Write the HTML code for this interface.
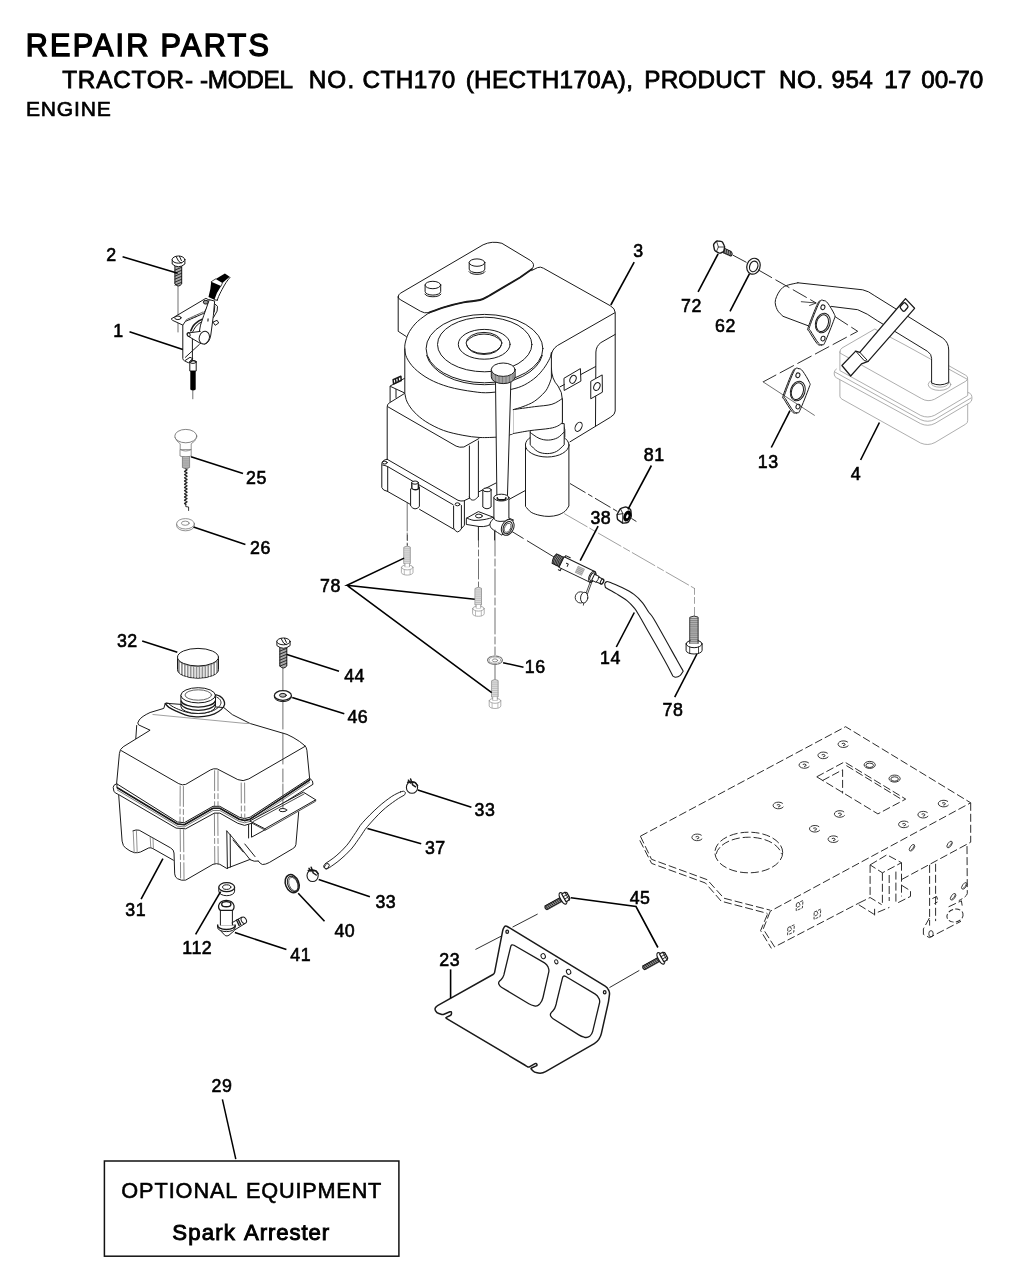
<!DOCTYPE html>
<html lang="en">
<head>
<meta charset="utf-8">
<title>Repair Parts - Tractor Model CTH170 - Engine</title>
<style>
html,body{margin:0;padding:0;background:#fff;}
body{width:1024px;height:1285px;position:relative;overflow:hidden;font-family:"Liberation Sans",Arial,Helvetica,sans-serif;color:#000;}
.hx{font-family:"Liberation Sans",Arial,Helvetica,sans-serif;fill:#000;stroke:#000;}
svg{position:absolute;left:0;top:0;will-change:transform;}
.lb{font-family:"Liberation Sans",Arial,Helvetica,sans-serif;font-size:17.8px;fill:#000;stroke:#000;stroke-width:0.6px;text-anchor:middle;letter-spacing:0.5px;}
.ld{stroke:#000;stroke-width:1.6;fill:none;stroke-linecap:butt;}
.o{stroke:#1a1a1a;stroke-width:1;fill:none;stroke-linejoin:round;stroke-linecap:round;}
.of{stroke:#1a1a1a;stroke-width:1;fill:#fff;stroke-linejoin:round;stroke-linecap:round;}
.t{stroke:#333;stroke-width:0.7;fill:none;stroke-linejoin:round;stroke-linecap:round;}
.g{stroke:#999;stroke-width:0.8;fill:none;stroke-linejoin:round;stroke-linecap:round;}
.gf{stroke:#999;stroke-width:0.8;fill:#fff;stroke-linejoin:round;stroke-linecap:round;}
.d{stroke:#222;stroke-width:0.95;fill:none;}
.cl{stroke:#222;stroke-width:0.95;fill:none;}
.k{fill:#000;stroke:none;}
.w{fill:#fff;stroke:none;}
.bx{font-family:"Liberation Sans",Arial,Helvetica,sans-serif;fill:#000;stroke:#000;stroke-width:0.45px;text-anchor:middle;}
</style>
</head>
<body>
<svg width="1024" height="1285" viewBox="0 0 1024 1285">
<g id="left-parts">
<path class="t" d="M178 286 L178 332"/>
<path class="o" d="M182.8 325.1 L182.8 358.6 Q182.9 360 184.5 360.8 L188.6 362.9 L192.6 358.6 L190 357.3 L185.3 360.4"/>
<path class="o" d="M199.4 344.4 L185.4 357.3 M192.4 336.9 L192.4 361.6"/>
<path class="of" d="M171.5 318.7 L205.9 298.3 L210.9 301 L203.7 313.3 L185.4 321.4 L182.8 325.1 L173.1 320.6 Z"/>
<path class="t" d="M185.4 321.4 L186.4 319.6 L203 312 M189 318.8 L189.6 320 M192 317.4 L192.6 318.6 M195 316 L195.6 317.2 M198 314.6 L198.6 315.8"/>
<ellipse class="o" cx="177.9" cy="317.8" rx="3.2" ry="1.8"/>
<ellipse class="o" cx="205.9" cy="302.2" rx="2.6" ry="1.9" style="fill:#999"/>
<path class="o" d="M190.8 330.8 C191.2 329.9 192.4 327 193.5 325.5 C194.6 324 196.1 322.8 197.5 321.8 C198.9 320.8 201.1 319.8 201.8 319.4" style="stroke-width:1.6"/>
<path class="o" d="M192.8 331.6 C193.2 330.8 194.5 328.4 195.5 327 C196.5 325.6 197.8 324.4 199 323.5 C200.2 322.6 201.9 321.9 202.5 321.6"/>
<path class="o" d="M214.4 303.6 L217.5 306.3 L217.1 311.1 L213.4 317.6 M214.8 306 L214.2 312"/>
<path class="of" d="M213.4 321.9 L217.1 320.3 L218.7 323 L215.5 325.1 Z"/>
<path class="of" d="M209.2 300 L203.7 315.6 L200.5 325.1 L199 333.5 Q198.6 342 204.5 344.2 Q209.5 343 210.8 335 L213.4 315.4 L214.6 301.5 Z"/>
<path class="k" d="M207.6 318.6 L208.6 318.6 L208.4 321.6 L207.4 321.6 Z"/>
<path class="of" d="M200.3 331.4 L187.8 333 Q186.4 335 188.3 336.3 L200.8 343.6"/>
<ellipse class="o" cx="188.6" cy="334.6" rx="1.5" ry="2" transform="rotate(-20 188.6 334.6)"/>
<ellipse class="of" cx="204.3" cy="337.6" rx="5" ry="6.5" transform="rotate(18 204.3 337.6)"/>
<path class="k" d="M215.7 278.9 L224.9 273.6 L229.7 276.8 L222.4 283 Z"/>
<path class="k" d="M211.2 281.7 L221.1 286 Q216.5 292.5 214.4 299.8 L208.5 296.9 Q210.8 289 211.2 281.7 Z"/>
<path class="o" d="M230 277.4 C229.3 278.3 227.3 280.6 226 282.6 C224.7 284.6 223.2 287.3 222 289.6 C220.8 291.9 219.4 294.7 218.6 296.5 C217.8 298.3 217.5 299.6 217.3 300.2"/>
<path class="o" d="M214.4 299.8 L217.3 300.2"/>
<path class="o" d="M211.2 281.7 L215.7 278.9 M221.1 286 L222.4 283" style="stroke-width:0.8"/>
<path class="of" d="M189.8 362.4 L189.8 371 L196.2 371 L196.2 361.4 Q193 359.6 189.8 362.4 Z"/>
<ellipse class="o" cx="193" cy="361.9" rx="3.2" ry="1.5"/>
<path class="k" d="M190.3 371 L190.3 389.6 Q193 391.6 195.7 389.6 L195.7 371 Z"/>
<path class="t" d="M192.8 390.5 L192.8 398.8"/>
<path class="of" d="M174.9 266 L174.9 284 Q178.3 288 181.7 284 L181.7 266 Z" style="fill:#aaa"/>
<path class="o" d="M175 270.1 L181.6 267.3" style="stroke-width:0.9"/>
<path class="o" d="M175 273.1 L181.6 270.3" style="stroke-width:0.9"/>
<path class="o" d="M175 276.1 L181.6 273.3" style="stroke-width:0.9"/>
<path class="o" d="M175 279.1 L181.6 276.3" style="stroke-width:0.9"/>
<path class="o" d="M175 282.1 L181.6 279.3" style="stroke-width:0.9"/>
<path class="o" d="M175 285.1 L181.6 282.3" style="stroke-width:0.9"/>
<path class="of" d="M172.2 259.6 L172.2 264 Q178.5 269.5 184.9 264 L184.9 259.6 Z"/>
<ellipse class="of" cx="178.5" cy="259.6" rx="6.3" ry="3.6"/>
<path class="o" d="M176 256.4 L178.6 261.2 L181.2 263 M179.4 256.2 L181.4 260.6"/>
<path class="gf" d="M174.9 437.5 Q176.5 441.5 180.2 443.8 L180.2 449.6 L191.2 449.6 L191.2 443.8 Q195.3 441.5 196.7 437.5" style="stroke:#777"/>
<ellipse class="gf" cx="185.8" cy="436.1" rx="11" ry="6.7" style="stroke:#666"/>
<path class="g" d="M180.2 449.6 Q185.7 452.6 191.2 449.6 M180 450.2 L180 456 Q185.6 459 191.2 456 L191.2 450.2" style="stroke:#777"/>
<path class="gf" d="M182.4 457 L182.4 467.5 Q186 470.5 189.6 467.5 L189.6 457 Z" style="fill:#bbb;stroke:#777"/>
<path class="g" d="M182.6 458.8 L189.4 458.8" style="stroke:#888;stroke-width:0.6"/>
<path class="g" d="M182.6 460.9 L189.4 460.9" style="stroke:#888;stroke-width:0.6"/>
<path class="g" d="M182.6 463 L189.4 463" style="stroke:#888;stroke-width:0.6"/>
<path class="g" d="M182.6 465.1 L189.4 465.1" style="stroke:#888;stroke-width:0.6"/>
<path class="g" d="M182.6 467.2 L189.4 467.2" style="stroke:#888;stroke-width:0.6"/>
<path class="o" d="M185.8 469 Q188.4 469.8 185.8 470.6 Q183.2 471.4 185.8 472.2 Q188.4 473 185.8 473.8 Q183.2 474.6 185.8 475.4 Q188.4 476.2 185.8 477 Q183.2 477.8 185.8 478.6 Q188.4 479.4 185.8 480.2 Q183.2 481 185.8 481.8 Q188.4 482.6 185.8 483.4 Q183.2 484.2 185.8 485 Q188.4 485.8 185.8 486.6 Q183.2 487.4 185.8 488.2 Q188.4 489 185.8 489.8 Q183.2 490.6 185.8 491.4 Q188.4 492.2 185.8 493 Q183.2 493.8 185.8 494.6 Q188.4 495.4 185.8 496.2 Q183.2 497 185.8 497.8 Q188.4 498.6 185.8 499.4 Q183.2 500.2 185.8 501 Q188.4 501.8 185.8 502.6 Q183.2 503.4 185.8 504.2" style="stroke-width:1.3;stroke:#222"/>
<path class="o" d="M185.8 504.2 L185.8 506.6 L188.6 507 L188.6 510.5" style="stroke-width:0.9"/>
<path class="g" d="M176.6 524 L176.6 525.6 A8.9 5.2 0 0 0 194.4 525.6 L194.4 524" style="stroke:#777"/>
<ellipse class="gf" cx="185.5" cy="523.8" rx="8.9" ry="5.2" style="stroke:#777"/>
<ellipse class="g" cx="185.3" cy="523.2" rx="3.9" ry="2.1" style="stroke:#777"/>
</g>
<g id="engine">
<path class="o" d="M404.8 393.3 L388.6 403.4 Q387.2 404.6 387.2 407 L387.2 459.3"/>
<path class="o" d="M387.9 406.8 L456.1 446.1 Q459.5 447.8 463.9 447 L479 438.5"/>
<path class="o" d="M469.4 446 L469.4 498.3 M478.4 441 L478.4 496.5"/>
<path class="o" d="M469.4 497 C469.7 497.4 470.1 499.1 471 499.6 C471.9 500.1 473.3 500.3 474.5 499.8 C475.7 499.3 477.8 497.1 478.4 496.5"/>
<path class="o" d="M478.9 491.8 L496 483 M508.7 499.6 L524.8 490.8"/>
<path class="o" d="M404.8 378.2 L390.1 386 L390.1 401.5 M396 389.4 L396 397.5 M390.6 386.5 L404.3 392.8"/>
<path class="o" d="M393.1 379.6 L400.9 376.2 L401.2 380.6 L393.6 384 Z M395.5 378.8 L396 382.8 M398 377.7 L398.5 381.7" style="stroke-width:1.5"/>
<path class="o" d="M387.2 459.3 Q382 459.8 381.8 464 L381.8 487.5 Q382.5 490.5 387.7 491.5"/>
<path class="o" d="M387.2 459.3 L458 500.3 Q461 501.5 463.9 500.8 L469.2 498.3"/>
<path class="o" d="M382.6 465 Q385 465.3 387.7 466.6 L453.1 504.7"/>
<path class="o" d="M387.7 466.6 L387.7 491.5 L410.4 504.4 M419.6 509.4 L453.4 529"/>
<ellipse class="o" cx="384.8" cy="462.6" rx="2.4" ry="1.4"/>
<path class="o" d="M453.6 506 L453.6 528 Q457.5 535.5 461.4 528.6 L461.4 505.5 M464.4 501.3 L464.4 525.2 L461.4 528.6"/>
<ellipse class="o" cx="457.5" cy="504.3" rx="2.4" ry="1.5"/>
<path class="of" d="M410.6 489 L410.6 506 Q415 511.5 419.4 506.5 L419.4 487"/>
<path class="of" d="M411.8 482.5 L411.8 488.5 Q415 491 418.4 488.8 L418.4 483.8" style="stroke-width:1.4"/>
<ellipse class="of" cx="415.1" cy="482.6" rx="3.3" ry="1.6"/>
<path class="t" d="M407.2 502.7 L407.2 531"/>
<path class="t" d="M407.2 533 L407.2 545" style="stroke-dasharray:7 3"/>
<path class="of" d="M482.8 490 L482.8 507 Q487 510.5 491.1 507 L491.1 490"/>
<ellipse class="of" cx="487" cy="489.8" rx="4.1" ry="1.9"/>
<path class="of" d="M466.7 518.1 L478.4 511.6 L493.5 517.3 L493.5 522 Q488 527.5 479 526.5 L466.7 524.5 Z"/>
<path class="o" d="M466.7 518.1 C467.9 518.5 471.1 520.1 474 520.4 C476.9 520.6 480.8 520.1 484 519.6 C487.2 519.1 491.9 517.7 493.5 517.3"/>
<ellipse class="o" cx="478.9" cy="516" rx="3.4" ry="1.9"/>
<path class="o" d="M478.4 526.5 L478.4 540 M494.6 531 L494.6 540"/>
<path class="w" d="M531.7 270.5 L537.6 267.6 Q540.5 266.4 543.4 268.2 L610.2 305.7 Q615.2 308.5 615.2 312.5 L615.2 411 Q615.2 414.5 610.5 417.2 L570 441.8 L564.8 437 L564.8 429.5 L562.4 422.5 L562.4 400 Q562.4 392 558 386 Q551.4 379 551.4 368 L551.4 355.5 Z"/>
<path class="o" d="M531.7 270.5 L537.6 267.6 Q540.5 266.4 543.4 268.2 L610.2 305.7 Q615.2 308.5 615.2 312.5 L615.2 411 Q615.2 414.5 610.5 417.2 L570 441.8"/>
<path class="o" d="M564.8 437 L564.8 429.5 L562.4 422.5 L562.4 400 Q562.4 392 558 386 Q551.4 379 551.4 368"/>
<path class="o" d="M614.9 312.7 L557.5 345.5 Q551.6 349.5 551.4 355.5"/>
<path class="o" d="M615.2 334.4 L600.9 342.6 Q596.2 346 595.9 352 L595.5 426"/>
<path class="of" d="M564.3 378.1 L580.4 368.6 L580.9 381.1 L564.5 390.3 Z"/>
<ellipse class="o" cx="573" cy="379.3" rx="2.9" ry="4.2" transform="rotate(25 573 379.3)"/>
<path class="of" d="M591.1 381.1 L602.2 374.9 L602.4 392.2 L591.1 398.6 Z"/>
<ellipse class="o" cx="596.9" cy="386.5" rx="2.9" ry="4.2" transform="rotate(25 596.9 386.5)"/>
<path class="o" d="M580.9 374.5 L595.5 366.6 M559.9 386.9 L564.4 384.5"/>
<ellipse class="o" cx="578.6" cy="426.8" rx="3.1" ry="4.9" transform="rotate(28 578.6 426.8)"/>
<path class="of" d="M525.5 445 L525.5 506.4 C526.5 507.4 528.8 510.8 531.2 512.3 C533.6 513.8 537 514.7 540 515.4 C543 516.1 546 516.5 549 516.4 C552 516.3 555.3 515.9 558 515 C560.7 514.1 563.2 512.8 565 511.3 C566.8 509.8 568.2 506.9 568.9 506 L568.9 445 Z"/>
<ellipse class="of" cx="547.2" cy="445" rx="21.8" ry="12"/>
<path class="of" d="M530.2 424 L530.2 444.8 C531.5 445.9 535 450.1 537.8 451.6 C540.6 453.1 544.1 453.6 547.2 453.6 C550.3 453.6 553.8 452.9 556.6 451.4 C559.4 449.9 562.9 445.9 564.2 444.8 L564.2 424 Z"/>
<path class="of" d="M513.2 409.6 C516.7 409.1 527.8 407.6 534.3 406.7 C540.8 405.8 547.2 405.7 551.9 404.3 C556.6 402.9 560.6 399.5 562.4 398.5 L562.4 422.5 C561.6 423.1 559.9 425 557.7 426 C555.6 427 554.2 427.6 549.5 428.4 C544.8 429.2 535.6 429.8 529.6 430.7 C523.6 431.6 515.9 433.1 513.2 433.6 Z"/>
<path class="o" d="M530.2 432.5 C531.7 433.5 536 437 539 438.3 C542 439.6 545.3 440.2 548.4 440.1 C551.5 440 555.1 439.1 557.7 437.7 C560.3 436.3 563.1 432.9 564.2 431.9"/>
<path class="o" d="M513.2 433.6 L508.5 435.4"/>
<path class="w" d="M404.8 348.8 L404.8 393.3 C405.2 394.8 405.6 399 407.2 402.1 C408.8 405.2 411 408.6 414.1 411.9 C417.2 415.1 420.9 418.5 425.8 421.6 C430.7 424.7 437.2 428.1 443.4 430.4 C449.6 432.7 456.8 434.1 462.9 435.3 C469 436.5 474.3 437.2 480 437.5 C485.7 437.8 494.2 437.2 497 437.2 L513.2 433.6 L513.2 409.6 C514.8 409.1 519.5 408 523 406.6 C526.5 405.2 530.7 403.8 534.3 401.4 C537.9 399 542.4 394.7 544.8 392 C547.2 389.3 547.8 387.3 548.9 385 C550 382.7 551 379.2 551.4 378.1 L551.4 352.7 L500 320 L429.2 312.7 Z"/>
<path class="o" d="M404.8 348.8 L404.8 393.3 C405.2 394.8 405.6 399 407.2 402.1 C408.8 405.2 411 408.6 414.1 411.9 C417.2 415.1 420.9 418.5 425.8 421.6 C430.7 424.7 437.2 428.1 443.4 430.4 C449.6 432.7 456.8 434.1 462.9 435.3 C469 436.5 474.3 437.2 480 437.5 C485.7 437.8 494.2 437.2 497 437.2"/>
<path class="o" d="M551.4 352.7 L551.4 378.1 C551 379.2 550 382.7 548.9 385 C547.8 387.3 547.2 389.3 544.8 392 C542.4 394.7 537.9 399 534.3 401.4 C530.7 403.8 526.5 405.2 523 406.6 C519.5 408 514.8 409.1 513.2 409.6"/>
<path class="o" d="M429.2 312.7 C427.2 314.2 420.8 318.4 417.5 321.5 C414.2 324.6 411.6 328.1 409.6 331.3 C407.6 334.6 406.5 338.1 405.7 341 C404.9 343.9 404.6 346 404.8 348.8 C405 351.6 405.1 354.3 406.7 357.6 C408.3 360.9 410.8 364.8 414.5 368.4 C418.2 372 423.5 376 429.2 379.1 C434.9 382.2 441.4 384.8 448.7 386.9 C456 389 466.2 390.7 473.1 391.6 C480 392.6 483.7 393 490 392.6 C496.3 392.2 505.4 390.7 511.1 389.4 C516.8 388.1 520.1 387.1 524.3 385 C528.4 382.9 532.8 379.9 536 377.1 C539.2 374.3 541.5 371.5 543.8 368.4 C546.1 365.3 548.4 361.2 549.7 358.6 C551 356 551.1 353.7 551.4 352.7"/>
<path class="of" d="M398.2 297 Q398.2 294.5 400.3 293.3 L483.1 244.8 Q492 240.6 501.9 243.3 L530.5 260.5 Q536 264.5 531.7 269.3 L520 277.5 L489.4 295.6 C487.8 296.3 484.3 298.9 480 300 C475.7 301.1 469.4 301.2 463.4 302.4 C457.4 303.6 449.5 305.6 443.8 307.3 C438.1 309 431.6 311.8 429.2 312.7 Q424 313.5 420.4 311.2 L400.9 300 Q398.2 298.8 398.2 297 Z"/>
<path class="o" d="M531.7 269.3 L520 277.5 L489.4 295.6 C487.8 296.3 484.3 298.9 480 300 C475.7 301.1 469.4 301.2 463.4 302.4 C457.4 303.6 449.5 305.6 443.8 307.3 C438.1 309 431.6 311.8 429.2 312.7" style="stroke-width:1.9"/>
<path class="o" d="M398.2 297 L398.2 331.3 L406.4 336.6"/>
<path class="of" d="M425.09999999999997 285.0 L425.09999999999997 291.5 A7.8 3.6 0 0 0 440.7 291.5 L440.7 285.0 Z"/>
<path class="o" d="M424.9 294.1 A8.3 3.6 0 0 0 440.9 294.1"/>
<ellipse class="of" cx="432.9" cy="285" rx="7.8" ry="3.7"/>
<path class="of" d="M469.2 262.6 L469.2 269.1 A7.8 3.6 0 0 0 484.8 269.1 L484.8 262.6 Z"/>
<path class="o" d="M469 271.7 A8.3 3.6 0 0 0 485 271.7"/>
<ellipse class="of" cx="477" cy="262.6" rx="7.8" ry="3.7"/>
<ellipse class="o" cx="484.5" cy="348.6" rx="58.4" ry="34.2"/>
<path class="o" d="M426.7 355.4 A58.4 34.2 0 0 0 542.3 355.4"/>
<ellipse class="o" cx="484.7" cy="344.5" rx="47.2" ry="27.3"/>
<ellipse class="o" cx="484.2" cy="344.3" rx="25.9" ry="14.9"/>
<ellipse class="o" cx="484" cy="343" rx="17.9" ry="10.6"/>
<path class="o" d="M467.2 341 A17.9 10.6 0 0 1 500.8 341"/>
<path class="o" d="M466.9 345.5 A17.2 10 0 0 0 501.1 345.5"/>
<path class="of" d="M495.5 380 L496.9 497.6 L507.4 497.6 L510.9 380 Z"/>
<path class="of" d="M493.9 497.6 L493.9 518.1 C493.3 518.9 490.7 521.4 490.2 523 C489.7 524.6 490.1 526.5 491.1 527.9 C492.1 529.3 494.2 530.3 496 531.5 C497.8 532.7 500.9 534.6 501.9 535.2 L511 522 L513.6 520.1 L508.9 518.1 L508.9 497.6 Z"/>
<path class="o" d="M493.9 518.1 A7.5 3.4 0 0 0 508.4 519.3"/>
<ellipse class="of" cx="501.4" cy="497.6" rx="7.5" ry="3.4"/>
<path class="o" d="M505.9 497.9 A4.3 2 0 0 1 497.3 497.9" style="stroke-width:1.6"/>
<ellipse class="of" cx="507.7" cy="527.4" rx="5.9" ry="8.3" transform="rotate(25 507.7 527.4)"/>
<ellipse class="o" cx="507.7" cy="527.6" rx="4.2" ry="6.4" transform="rotate(25 507.7 527.6)"/>
<ellipse class="t" cx="507.7" cy="527.8" rx="2.9" ry="4.8" transform="rotate(25 507.7 527.8)"/>
<path class="of" d="M491.3 369.7 L491.3 376.9 A11.9 6.7 0 0 0 515.1 376.9 L515.1 369.7 Z" style="fill:#d8d8d8"/>
<path class="t" d="M492.7 373.5 L492.7 379.8" style="stroke:#333;stroke-width:0.55"/>
<path class="t" d="M494.1 374.6 L494.1 380.9" style="stroke:#333;stroke-width:0.55"/>
<path class="t" d="M495.5 375.4 L495.5 381.7" style="stroke:#333;stroke-width:0.55"/>
<path class="t" d="M496.9 376 L496.9 382.3" style="stroke:#333;stroke-width:0.55"/>
<path class="t" d="M498.3 376.4 L498.3 382.7" style="stroke:#333;stroke-width:0.55"/>
<path class="t" d="M499.7 376.7 L499.7 383" style="stroke:#333;stroke-width:0.55"/>
<path class="t" d="M501.1 376.9 L501.1 383.2" style="stroke:#333;stroke-width:0.55"/>
<path class="t" d="M502.5 377 L502.5 383.3" style="stroke:#333;stroke-width:0.55"/>
<path class="t" d="M503.9 377 L503.9 383.3" style="stroke:#333;stroke-width:0.55"/>
<path class="t" d="M505.3 376.9 L505.3 383.2" style="stroke:#333;stroke-width:0.55"/>
<path class="t" d="M506.7 376.7 L506.7 383" style="stroke:#333;stroke-width:0.55"/>
<path class="t" d="M508.1 376.4 L508.1 382.7" style="stroke:#333;stroke-width:0.55"/>
<path class="t" d="M509.5 376 L509.5 382.3" style="stroke:#333;stroke-width:0.55"/>
<path class="t" d="M510.9 375.4 L510.9 381.7" style="stroke:#333;stroke-width:0.55"/>
<path class="t" d="M512.3 374.6 L512.3 380.9" style="stroke:#333;stroke-width:0.55"/>
<path class="t" d="M513.7 373.5 L513.7 379.8" style="stroke:#333;stroke-width:0.55"/>
<ellipse class="of" cx="503.2" cy="369.7" rx="11.9" ry="6.7"/>
</g>
<g id="exhaust">
<path class="gf" d="M839.9 379.6 L839.9 396.2 Q840 398 842 399.2 L920.5 443 Q927.9 446.2 935 442.5 L965.6 424.2 Q967.7 422.8 967.7 420.5 L967.7 404.5"/>
<path class="gf" d="M836.4 369 Q834 370.3 834.2 373 L834.4 375 Q834.6 376.8 836.5 377.8 L920.5 423.6 Q927.9 427 935 423.4 L969.6 402.8 Q971.9 401.4 971.9 399 L971.9 396.8 Q971.9 394.4 969.6 393.2 L967.7 392.4"/>
<path class="g" d="M835.2 372.2 L920.5 419.6 Q927.9 423 935 419.4 L971 398"/>
<path class="gf" d="M839.9 352 L839.9 370.6 L920.8 415.5 Q927.9 418.6 934.8 415.2 L967.7 395.6 L967.7 379.5 L905 345 L874.8 329 L842 348 Q839.9 349.4 839.9 352 Z"/>
<path class="g" d="M840.3 353.2 L921.5 398.6 Q928 402.4 934.6 399.2 L965.8 381.2 Q967.7 380 967.7 378 Q967.7 376.4 965.6 375.2 L944 363"/>
<ellipse class="gf" cx="939.5" cy="384.6" rx="11.3" ry="5.8"/>
<ellipse class="gf" cx="939.9" cy="383.4" rx="8.5" ry="3.8"/>
<path class="of" d="M797.9 282.8 L862.7 289.8 Q868.5 291 874.8 295.8 L942.8 338.1 Q948.7 342.5 948.7 350 L948.7 382.5 Q940 387 931.6 383 L931.6 358.4 Q931.6 354 927.6 351.4 L877.3 320.7 Q867 313.2 857.7 309.7 L831.1 306.4 L809.6 326.3 L783 316.3 C782 315.2 778.5 312.5 777.2 309.7 C776 306.9 774.5 303.4 775.5 299.7 C776.5 296 779.3 290.1 783 287.3 C786.7 284.5 795.4 283.6 797.9 282.8 Z"/>
<path class="of" d="M822.3 301.1 C823.7 301.2 824.5 301.3 826.3 303.6 C828.1 305.9 832 312.4 833.1 315.1 C834.2 317.8 834.4 314.9 832.8 319.6 C831.2 324.3 825.4 338.9 823.4 343.1 C821.4 347.3 821.7 344.9 820.6 345 C819.5 345.1 818.9 345.8 817 343.5 C815.1 341.2 810.5 333.8 809 331.1 C807.5 328.4 806.7 331.9 808.2 327.3 C809.7 322.7 815.5 307.7 817.8 303.3 C820.2 298.9 820.9 301.1 822.3 301.1Z"/>
<path class="of" d="M823.7 300.6 C825.1 300.7 825.9 300.8 827.7 303.1 C829.5 305.4 833.4 311.9 834.5 314.6 C835.6 317.3 835.8 314.4 834.2 319.1 C832.6 323.8 826.8 338.4 824.8 342.6 C822.8 346.8 823.1 344.4 822 344.5 C820.9 344.6 820.3 345.3 818.4 343 C816.5 340.7 811.9 333.3 810.4 330.6 C808.9 327.9 808.1 331.4 809.6 326.8 C811.1 322.2 816.9 307.2 819.2 302.8 C821.6 298.4 822.3 300.6 823.7 300.6Z"/>
<ellipse class="o" cx="822.8" cy="323" rx="7.2" ry="10" transform="rotate(18 822.8 323)"/>
<ellipse class="o" cx="822.4" cy="323.2" rx="5.8" ry="8.6" transform="rotate(18 822.4 323.2)"/>
<ellipse class="o" cx="822.9" cy="307.3" rx="2" ry="2.4" transform="rotate(18 822.9 307.3)"/>
<ellipse class="o" cx="823" cy="338.6" rx="2" ry="2.4" transform="rotate(18 823 338.6)"/>
<path class="o" d="M801.3 301.7 L816.2 303 L809.6 305.5" style="stroke-width:0.8"/>
<path class="of" d="M905.5 298.6 L914.6 308.3 L868.1 361.4 L861.5 363.9 L850.7 376 L841.9 365.5 L855.7 351.1 L859.8 352.3 L902.2 302.5 Z" style="stroke-width:1.25"/>
<path class="o" d="M855.7 351.1 L864.2 360.6 L868.1 361.4 M859.8 352.3 L866.8 359.8"/>
<path class="o" d="M900.7 308.4 Q899.6 307.2 900.7 306 L903.3 303.2 Q904.4 302 905.5 303.2 L907.5 305.4 Q908.6 306.6 907.5 307.8 L904.9 310.8 Q903.8 312 902.7 310.8Z" style="stroke-width:1.3"/>
<path class="of" d="M797.3 369.1 C798.7 369.2 799.5 369.3 801.3 371.6 C803.1 373.9 807 380.4 808.1 383.1 C809.2 385.8 809.4 382.9 807.8 387.6 C806.2 392.3 800.4 406.9 798.4 411.1 C796.4 415.3 796.7 412.9 795.6 413 C794.5 413.1 793.9 413.8 792 411.5 C790.1 409.2 785.5 401.8 784 399.1 C782.5 396.4 781.7 399.9 783.2 395.3 C784.7 390.7 790.5 375.7 792.8 371.3 C795.2 366.9 795.9 369.1 797.3 369.1Z"/>
<path class="of" d="M798.7 368.6 C800.1 368.7 800.9 368.8 802.7 371.1 C804.5 373.4 808.4 379.9 809.5 382.6 C810.6 385.3 810.8 382.4 809.2 387.1 C807.6 391.8 801.8 406.4 799.8 410.6 C797.8 414.8 798.1 412.4 797 412.5 C795.9 412.6 795.3 413.3 793.4 411 C791.5 408.7 786.9 401.3 785.4 398.6 C783.9 395.9 783.1 399.4 784.6 394.8 C786.1 390.2 791.9 375.2 794.2 370.8 C796.6 366.4 797.3 368.6 798.7 368.6Z"/>
<ellipse class="o" cx="797.8" cy="391" rx="7.2" ry="10" transform="rotate(18 797.8 391)"/>
<ellipse class="o" cx="797.4" cy="391.2" rx="5.8" ry="8.6" transform="rotate(18 797.4 391.2)"/>
<ellipse class="o" cx="797.9" cy="375.3" rx="2" ry="2.4" transform="rotate(18 797.9 375.3)"/>
<ellipse class="o" cx="798" cy="406.6" rx="2" ry="2.4" transform="rotate(18 798 406.6)"/>
<ellipse class="of" cx="753.5" cy="266.2" rx="6.6" ry="8.1" transform="rotate(20 753.5 266.2)" style="stroke-width:1.2"/>
<ellipse class="of" cx="753.7" cy="266.4" rx="4" ry="5.4" transform="rotate(20 753.7 266.4)" style="stroke-width:1.2"/>
<path class="of" d="M723 247.6 L731.4 251.6 Q733.2 253.8 731.2 256.2 L722.6 252.4 Z" style="fill:#999"/>
<path class="o" d="M724.6 248.6 L724 253.2" style="stroke-width:0.8"/>
<path class="o" d="M726.6 249.5 L726 254.1" style="stroke-width:0.8"/>
<path class="o" d="M728.6 250.4 L728 255" style="stroke-width:0.8"/>
<path class="o" d="M730.6 251.3 L730 255.9" style="stroke-width:0.8"/>
<path class="of" d="M713.6 245.6 Q713.4 244.4 714.2 243.5 L715.8 241.7 Q716.6 240.8 717.8 241 L721 241.4 Q722.2 241.6 722.8 242.7 L724.2 245.5 Q724.8 246.6 724.5 247.8 L723.9 250.6 Q723.6 251.8 722.5 252.2 L720.7 253 Q719.6 253.4 718.6 252.8 L715.6 251.2 Q714.6 250.6 714.4 249.4Z" style="stroke-width:1.4"/>
<path class="o" d="M716.6 241.4 L718.4 247 L716.4 251.6 M718.4 247 L724.4 247" style="stroke-width:0.8"/>
</g>
<g id="mid-parts">
<path class="cl" d="M570 483.5 L617.3 511.4 M631.4 518.4 L636.4 521.5" style="stroke-dasharray:18 3 5 3"/>
<path class="g" d="M564.6 513.8 L694.5 588.4" style="stroke:#888;stroke-dasharray:26 3 7 3"/>
<path class="g" d="M694.5 588.4 L694.5 616" style="stroke:#888;stroke-dasharray:6 3 6 4 12 0"/>
<path class="cl" d="M511.6 531.3 L554.1 557.1" style="stroke-dasharray:14 4 30 0"/>
<path class="t" d="M478.5 527 L478.5 587" style="stroke-dasharray:20 3 6 3"/>
<path class="t" d="M495 530 L495 655" style="stroke-dasharray:26 3 7 3"/>
<path class="t" d="M495 664 L495 680"/>
<path class="t" d="M407.4 535 L407.4 540.6 M407.4 543.8 L407.4 547.3"/>
<path class="cl" d="M732.4 254.9 L746.5 262.4 M758.1 269.8 L816.2 303 M834.5 316.3 L857.7 331.3 L763.1 381.9" style="stroke-dasharray:16 4"/>
<path class="t" d="M763.1 381.9 L814.4 415.3"/>
<path class="gf" d="M404.1 547.1 Q407.2 544.9 410.3 547.1 L410.3 563.7 L404.1 563.7 Z" style="fill:#ddd;stroke:#8a8a8a"/>
<path class="g" d="M404.2 548.7 L410.2 548.7" style="stroke:#aaa;stroke-width:0.6"/>
<path class="g" d="M404.2 550.8 L410.2 550.8" style="stroke:#aaa;stroke-width:0.6"/>
<path class="g" d="M404.2 552.9 L410.2 552.9" style="stroke:#aaa;stroke-width:0.6"/>
<path class="g" d="M404.2 555 L410.2 555" style="stroke:#aaa;stroke-width:0.6"/>
<path class="g" d="M404.2 557.1 L410.2 557.1" style="stroke:#aaa;stroke-width:0.6"/>
<path class="g" d="M404.2 559.2 L410.2 559.2" style="stroke:#aaa;stroke-width:0.6"/>
<path class="g" d="M404.2 561.3 L410.2 561.3" style="stroke:#aaa;stroke-width:0.6"/>
<path class="gf" d="M404.9 563.7 L404.9 567.3 L409.5 567.3 L409.5 563.7" style="stroke:#999"/>
<path class="gf" d="M401.4 567.3 L401.4 572.5 A5.8 2.6 0 0 0 413 572.5 L413 567.3" style="stroke:#999"/>
<path class="g" d="M401.4 567.3 A5.8 2.6 0 0 0 413 567.3 M401.4 567.3 A5.8 2.6 0 0 1 404.8 565 M413 567.3 A5.8 2.6 0 0 0 409.6 565" style="stroke:#999"/>
<path class="g" d="M404.3 569.6 L404.3 574.6 M410.1 569.6 L410.1 574.6" style="stroke:#aaa"/>
<path class="gf" d="M475.3 588.3 Q478.4 586.1 481.5 588.3 L481.5 604.9 L475.3 604.9 Z" style="fill:#ddd;stroke:#8a8a8a"/>
<path class="g" d="M475.4 589.9 L481.4 589.9" style="stroke:#aaa;stroke-width:0.6"/>
<path class="g" d="M475.4 592 L481.4 592" style="stroke:#aaa;stroke-width:0.6"/>
<path class="g" d="M475.4 594.1 L481.4 594.1" style="stroke:#aaa;stroke-width:0.6"/>
<path class="g" d="M475.4 596.2 L481.4 596.2" style="stroke:#aaa;stroke-width:0.6"/>
<path class="g" d="M475.4 598.3 L481.4 598.3" style="stroke:#aaa;stroke-width:0.6"/>
<path class="g" d="M475.4 600.4 L481.4 600.4" style="stroke:#aaa;stroke-width:0.6"/>
<path class="g" d="M475.4 602.5 L481.4 602.5" style="stroke:#aaa;stroke-width:0.6"/>
<path class="gf" d="M476.1 604.9 L476.1 608.5 L480.7 608.5 L480.7 604.9" style="stroke:#999"/>
<path class="gf" d="M472.6 608.5 L472.6 613.7 A5.8 2.6 0 0 0 484.2 613.7 L484.2 608.5" style="stroke:#999"/>
<path class="g" d="M472.6 608.5 A5.8 2.6 0 0 0 484.2 608.5 M472.6 608.5 A5.8 2.6 0 0 1 476 606.2 M484.2 608.5 A5.8 2.6 0 0 0 480.8 606.2" style="stroke:#999"/>
<path class="g" d="M475.5 610.8 L475.5 615.8 M481.3 610.8 L481.3 615.8" style="stroke:#aaa"/>
<path class="gf" d="M491.9 680.5 Q495 678.3 498.1 680.5 L498.1 697.1 L491.9 697.1 Z" style="fill:#ddd;stroke:#8a8a8a"/>
<path class="g" d="M492 682.1 L498 682.1" style="stroke:#aaa;stroke-width:0.6"/>
<path class="g" d="M492 684.2 L498 684.2" style="stroke:#aaa;stroke-width:0.6"/>
<path class="g" d="M492 686.3 L498 686.3" style="stroke:#aaa;stroke-width:0.6"/>
<path class="g" d="M492 688.4 L498 688.4" style="stroke:#aaa;stroke-width:0.6"/>
<path class="g" d="M492 690.5 L498 690.5" style="stroke:#aaa;stroke-width:0.6"/>
<path class="g" d="M492 692.6 L498 692.6" style="stroke:#aaa;stroke-width:0.6"/>
<path class="g" d="M492 694.7 L498 694.7" style="stroke:#aaa;stroke-width:0.6"/>
<path class="gf" d="M492.7 697.1 L492.7 700.7 L497.3 700.7 L497.3 697.1" style="stroke:#999"/>
<path class="gf" d="M489.2 700.7 L489.2 705.9 A5.8 2.6 0 0 0 500.8 705.9 L500.8 700.7" style="stroke:#999"/>
<path class="g" d="M489.2 700.7 A5.8 2.6 0 0 0 500.8 700.7 M489.2 700.7 A5.8 2.6 0 0 1 492.6 698.4 M500.8 700.7 A5.8 2.6 0 0 0 497.4 698.4" style="stroke:#999"/>
<path class="g" d="M492.1 703 L492.1 708 M497.9 703 L497.9 708" style="stroke:#aaa"/>
<path class="of" d="M690.1 617.1 Q694.1 614.9 698.1 617.1 L698.1 644.7 L690.1 644.7 Z" style="fill:#ccc;stroke:#333"/>
<path class="o" d="M690.2 618.7 L698 618.7" style="stroke:#444;stroke-width:0.7"/>
<path class="o" d="M690.2 620.8 L698 620.8" style="stroke:#444;stroke-width:0.7"/>
<path class="o" d="M690.2 622.8 L698 622.8" style="stroke:#444;stroke-width:0.7"/>
<path class="o" d="M690.2 624.9 L698 624.9" style="stroke:#444;stroke-width:0.7"/>
<path class="o" d="M690.2 626.9 L698 626.9" style="stroke:#444;stroke-width:0.7"/>
<path class="o" d="M690.2 629 L698 629" style="stroke:#444;stroke-width:0.7"/>
<path class="o" d="M690.2 631 L698 631" style="stroke:#444;stroke-width:0.7"/>
<path class="o" d="M690.2 633.1 L698 633.1" style="stroke:#444;stroke-width:0.7"/>
<path class="o" d="M690.2 635.1 L698 635.1" style="stroke:#444;stroke-width:0.7"/>
<path class="o" d="M690.2 637.2 L698 637.2" style="stroke:#444;stroke-width:0.7"/>
<path class="o" d="M690.2 639.2 L698 639.2" style="stroke:#444;stroke-width:0.7"/>
<path class="o" d="M690.2 641.2 L698 641.2" style="stroke:#444;stroke-width:0.7"/>
<path class="o" d="M690.2 643.3 L698 643.3" style="stroke:#444;stroke-width:0.7"/>
<path class="of" d="M686.1 643.8 L686.1 650.4 A8 3.6 0 0 0 702.1 650.4 L702.1 643.8"/>
<path class="o" d="M686.1 643.8 A8 3.9 0 0 0 702.1 643.8 M686.1 643.8 A8 3.9 0 0 1 690.1 640.5 M702.1 643.8 A8 3.9 0 0 0 698.1 640.5"/>
<path class="o" d="M689.7 647.0999999999999 L689.7 653.4 M698.5 647.0999999999999 L698.5 653.4" style="stroke-width:0.8"/>
<ellipse class="gf" cx="495" cy="660.2" rx="7.4" ry="4.2" style="stroke:#777;stroke-width:1.2;stroke-dasharray:2.4 1.2"/>
<ellipse class="g" cx="495" cy="660.2" rx="5.9" ry="3.2" style="stroke:#999"/>
<ellipse class="g" cx="495" cy="660.4" rx="2.7" ry="1.5" style="stroke:#777"/>
<path class="of" d="M617.1 515.9 Q617 514.6 617.6 513.5 L619.8 509.7 Q620.4 508.6 621.6 508.2 L624.8 507.2 Q626 506.8 627.1 507.4 L629.7 508.8 Q630.8 509.4 630.9 510.7 L631.3 515.5 Q631.4 516.8 630.7 517.9 L628.7 521.5 Q628 522.6 626.7 522.7 L623.9 523.1 Q622.6 523.2 621.6 522.4 L618.4 520.2 Q617.4 519.4 617.3 518.1Z" style="stroke-width:1.4"/>
<path class="o" d="M620.4 508.6 L622.8 513.6 L622.6 523.2 M617 514.6 L622.8 513.6" style="stroke-width:0.9"/>
<ellipse class="k" cx="627.2" cy="516" rx="3.6" ry="5.8" transform="rotate(22 627.2 516)"/>
<ellipse class="w" cx="627.3" cy="516.3" rx="1.1" ry="2" transform="rotate(22 627.3 516.3)"/>
<g transform="translate(561.1 561.8) rotate(25.7)">
<path class="of" style="fill:#999" d="M-7.5 -5.2 L0.5 -5.2 L0.5 5.2 L-7.5 5.2 Q-9.6 0 -7.5 -5.2Z"/>
<path class="o" style="stroke-width:0.8" d="M-6.6 -5.2 Q-8 0 -6.6 5.2"/>
<path class="o" style="stroke-width:0.8" d="M-5 -5.2 Q-6.4 0 -5 5.2"/>
<path class="o" style="stroke-width:0.8" d="M-3.4 -5.2 Q-4.8 0 -3.4 5.2"/>
<path class="o" style="stroke-width:0.8" d="M-1.8 -5.2 Q-3.2 0 -1.8 5.2"/>
<path class="o" style="stroke-width:0.8" d="M-0.2 -5.2 Q-1.6 0 -0.2 5.2"/>
<path class="of" d="M0.5 -5.9 L34.5 -5.9 A3 5.9 0 0 1 34.5 5.9 L0.5 5.9 Z"/>
<ellipse class="o" cx="34.5" cy="0" rx="3" ry="5.9"/>
<ellipse class="o" cx="34.9" cy="0" rx="2.2" ry="4.4"/>
<path class="o" d="M1.5 -5.9 L1.5 -7.6 L6.5 -7.6 M3 5.9 L3 8.4 L1 8.4 M5.5 -1 L7.5 -1 L7.5 1.5"/>
<path d="M17 -3.8 L24.6 -3.8 L24.6 3.6 L17 3.6 Z" style="fill:#999;stroke:none"/>
<path d="M17.3 -2.6 L24.3 -2.6" style="stroke:#ddd;stroke-width:0.6"/>
<path d="M17.3 -0.9 L24.3 -0.9" style="stroke:#ddd;stroke-width:0.6"/>
<path d="M17.3 0.8 L24.3 0.8" style="stroke:#ddd;stroke-width:0.6"/>
<path d="M17.3 2.5 L24.3 2.5" style="stroke:#ddd;stroke-width:0.6"/>
<path class="of" d="M35.5 -3.3 L40.5 -3.3 L40.5 -2.6 L45.5 -2.6 A1.6 2.8 0 0 1 45.5 2.8 L40.5 2.8 L40.5 3.3 L35.5 3.3 Z"/>
<ellipse class="o" cx="45.6" cy="0.1" rx="1.5" ry="2.7"/>
<path class="o" style="stroke-width:0.8" d="M40.5 -2.6 Q41.6 0 40.5 2.8"/>
</g>
<path class="o" d="M590.6 581 L584.6 597 L583.4 605.2 M592 581.6 L586 598" style="stroke-width:0.8"/>
<ellipse class="of" cx="580.6" cy="597.4" rx="5.4" ry="5.6" style="stroke-width:0.9"/>
<ellipse class="of" cx="584.2" cy="597.6" rx="3.6" ry="5.4" transform="rotate(8 584.2 597.6)" style="stroke-width:0.9"/>
<path class="of" d="M609.7 582.3 C611.8 583.2 618 585.6 622 587.6 C626 589.6 630.6 591.9 634 594.4 C637.4 596.9 640.2 599.9 642.6 602.8 C645 605.7 646.5 609 648.6 612 C650.7 615 650.3 613 655 621 C659.7 629 672.2 651.6 676.9 660 C681.6 668.4 682.2 669.3 683.2 671.2 L683.2 671.2 C682.7 671.9 681.3 674.6 680 675.6 C678.7 676.6 676.8 677.1 675.6 677.2 C674.4 677.3 673.4 676.2 672.9 676 L672.9 676 C671.5 673.3 668.8 667.9 664.4 660 C660 652.1 650.6 635.6 646.5 628.4 C642.4 621.2 642 620.3 640 617 C638 613.7 636.8 611.1 634.6 608.4 C632.4 605.7 630.1 603.1 627 600.6 C623.9 598.1 619.8 595.8 616.2 593.6 C612.6 591.4 607.2 588.4 605.4 587.4 L605.4 587.4 C605.3 586.8 604.5 584.6 604.8 583.6 C605.1 582.6 606.2 581.8 607 581.6 C607.8 581.4 609.2 582.2 609.7 582.3Z" style="stroke-width:1.1"/>
</g>
<g id="fuel-tank">
<path class="o" d="M118.7 795 L122.1 841.1 Q123 846.5 125.5 847.9 Q130 851.5 134.4 852.7 Q137.5 853 140.5 852 L148.8 847.9 Q151 847.4 152.9 848.6 L173.4 860.2"/>
<path class="o" d="M133 830.8 Q136 829.4 139.2 830.2 L170.6 847.9 Q174 849.8 174 853 L174.7 873.9 Q175 877.6 177.5 878.7 Q181.5 881 185.7 880.1 L213 864.3 Q216.5 863 219.8 864.3 L226.7 868.4 L250.1 859.4"/>
<path class="t" d="M133.2 831 L134.2 852.4 M136.4 830.4 L137.2 852.6 M150.2 836.8 L150.8 847.6 M153 838.2 L153.4 848.6" style="stroke:#666"/>
<path class="o" d="M226.8 831 L227.4 868.6 M230.2 834.6 L230.4 867"/>
<path class="o" d="M226.8 831 L232.3 837.2 L250.1 859.7 Q254 862 258.3 861.1 M233 840 L243.2 852 M244.8 844 L255 856.6"/>
<path class="o" d="M251.5 822.8 L251.5 837.2 L265.2 829.7 M248.6 822.6 L248.6 838"/>
<path class="o" d="M298.7 811.9 L295.9 844.7 Q295.4 847.6 292.5 848.8 L269.3 862.5 Q265.5 864.6 262.4 864.5 Q260 863.6 258.3 861.1"/>
<path class="t" d="M180.2 829.5 L180.6 878" style="stroke:#555;stroke-dasharray:22 3 5 3"/>
<path class="t" d="M183.6 829.8 L184 879" style="stroke:#555;stroke-dasharray:22 3 5 3"/>
<path class="t" d="M214.4 813.5 L214.8 864" style="stroke:#555;stroke-dasharray:22 3 5 3"/>
<path class="t" d="M217.8 813.5 L218.2 864" style="stroke:#555;stroke-dasharray:22 3 5 3"/>
<path class="of" d="M165.2 703.6 L163.8 708.4 L150.1 712.5 Q141.5 716.5 139.2 720 Q136.6 723.4 138.6 724.9 L150.1 730.2 L123.2 746.8 Q119.8 749 119.4 753.5 L116.6 783.7 L177.5 822 L184.3 822.7 L213 806.3 L219.8 806.3 L239.2 817.2 L244.6 818.6 L250.1 817.2 L309.6 778.2 L306.9 750.2 Q306.6 747 304 745 L299.3 741.3 Q293 737 287 734.4 L250.1 723.5 L232.3 714.6 L224.1 707.8 Z"/>
<path class="o" d="M136.7 725.5 L135.8 738.6"/>
<path class="g" d="M152.9 714.5 L245 723.4 L250.1 723.5" style="stroke:#888"/>
<path class="o" d="M121.4 750.7 L178.8 783.7 Q182.5 785.6 185.7 784.4 L210.3 770 Q213.4 768.2 217.2 768.9 L237.8 779.6 Q243 782 248.8 778.9 L305.5 746.1"/>
<path class="t" d="M180.2 786 L180 823" style="stroke:#555;stroke-dasharray:20 3 5 3"/>
<path class="t" d="M183.4 786.5 L183.4 823" style="stroke:#555;stroke-dasharray:20 3 5 3"/>
<path class="t" d="M214.6 770.7 L214.6 806" style="stroke:#555;stroke-dasharray:20 3 5 3"/>
<path class="t" d="M218 770.7 L218 806" style="stroke:#555;stroke-dasharray:20 3 5 3"/>
<path class="t" d="M241.2 783 L241.4 818" style="stroke:#555;stroke-dasharray:20 3 5 3"/>
<path class="t" d="M244.6 783 L244.8 819" style="stroke:#555;stroke-dasharray:20 3 5 3"/>
<path class="of" d="M116.6 783.7 Q113 785 113.2 787.4 L113.9 791.2 Q114.4 793 118.7 794.6 L176.1 828.1 L185.7 828.8 L214.4 813.1 L219.8 813.1 L237.8 823.3 L244.6 825.4 L251.5 823.3 L313 784.3 Q313.6 780.6 309.6 778.2 L309.6 780 L250.1 819.2 L244.6 820.6 L239.2 819.2 L219.8 808.3 L213 808.3 L184.3 824.7 L177.5 824 L117.3 787.8 Z"/>
<path class="o" d="M117.3 787.8 L177.5 824 L184.3 824.7 L213 808.3 L219.8 808.3 L239.2 819.2 L244.6 820.6 L250.1 819.2 L309.6 780" style="stroke-width:1.6"/>
<path class="t" d="M117.3 790 L177.5 826.2 L184.3 826.9 L213 810.5 L219.8 810.5 L239.2 821.4 L244.6 822.8 L250.1 821.4 L309.6 782.2" style="stroke:#444"/>
<path class="of" d="M250.1 820.8 L303.4 792.2 L315.7 799.8 L265.2 828.6 Z"/>
<path class="o" d="M251.6 823 L265.3 830.2 L315.7 801.2 L315.7 799.8 M253 821.6 L304 794" style="stroke-width:0.8"/>
<ellipse class="o" cx="282.9" cy="810.1" rx="3.8" ry="1.6"/>
<path class="o" d="M165.2 703.6 C165.8 704.2 167.2 706.1 169 707.4 C170.8 708.6 173.4 709.9 176.1 711.1 C178.8 712.3 182 713.9 185 714.8 C188 715.7 190.7 716.3 193.9 716.6 C197.2 716.9 201.1 716.9 204.5 716.4 C207.9 715.9 211.6 715 214.4 713.8 C217.2 712.6 219.7 711 221.4 709.4 C223.1 707.8 224.3 705.9 224.6 704.3 C224.9 702.7 224.2 701 223.4 699.6 C222.6 698.2 221.1 696.9 219.8 696.1 C218.5 695.3 216.2 694.9 215.5 694.7" style="stroke-width:1.3"/>
<path class="o" d="M168.6 703.4 C169.2 703.9 170.3 705.2 172 706.2 C173.7 707.2 176.2 708.4 178.6 709.4 C181 710.4 183.9 711.5 186.5 712.2 C189.1 712.9 191.2 713.2 194 713.4 C196.8 713.6 200.6 713.6 203.6 713.2 C206.6 712.8 209.4 712.1 211.8 711.2 C214.2 710.3 216.5 708.9 218 707.6 C219.5 706.3 220.6 704.7 220.9 703.4 C221.2 702.1 220.7 700.7 220 699.6 C219.3 698.5 217.2 697.4 216.6 697"/>
<path class="o" d="M165.2 703.6 Q166.5 702.2 168.6 703.4"/>
<path class="of" d="M180.9 695.3 L180.9 706.5 A17.3 7 0 0 0 215.5 706.5 L215.5 695.3 Z"/>
<path class="o" d="M181.2 701.1 A17.3 7.4 0 0 0 215.2 701.1" style="stroke-width:1.4"/>
<path class="o" d="M181.2 704.3 A17.3 7.4 0 0 0 215.2 704.3" style="stroke-width:1.4"/>
<ellipse class="of" cx="198.2" cy="695.3" rx="17.3" ry="7.6"/>
<ellipse class="o" cx="198.3" cy="695" rx="13.3" ry="5.2" style="stroke:#666"/>
<path class="of" d="M177.5 657.4 L177.5 669.6 A20.5 8.6 0 0 0 218.5 669.6 L218.5 657.4 Z" style="fill:#959595"/>
<path class="t" d="M180.4 663.1 L180.4 673.2" style="stroke:#fff;stroke-width:1.2"/>
<path class="t" d="M183.4 664.8 L183.4 674.8" style="stroke:#fff;stroke-width:1.2"/>
<path class="t" d="M186.3 665.8 L186.3 675.9" style="stroke:#fff;stroke-width:1.2"/>
<path class="t" d="M189.2 666.6 L189.2 676.6" style="stroke:#fff;stroke-width:1.2"/>
<path class="t" d="M192.2 667 L192.2 677" style="stroke:#fff;stroke-width:1.2"/>
<path class="t" d="M195.1 667.3 L195.1 677.3" style="stroke:#fff;stroke-width:1.2"/>
<path class="t" d="M198 667.4 L198 677.4" style="stroke:#fff;stroke-width:1.2"/>
<path class="t" d="M200.9 667.3 L200.9 677.3" style="stroke:#fff;stroke-width:1.2"/>
<path class="t" d="M203.9 667 L203.9 677" style="stroke:#fff;stroke-width:1.2"/>
<path class="t" d="M206.8 666.5 L206.8 676.6" style="stroke:#fff;stroke-width:1.2"/>
<path class="t" d="M209.7 665.8 L209.7 675.9" style="stroke:#fff;stroke-width:1.2"/>
<path class="t" d="M212.7 664.8 L212.7 674.8" style="stroke:#fff;stroke-width:1.2"/>
<path class="t" d="M215.6 663.1 L215.6 673.2" style="stroke:#fff;stroke-width:1.2"/>
<ellipse class="of" cx="198" cy="657.2" rx="20.5" ry="8.8"/>
<path class="t" d="M282.9 668 L282.9 690.6 M282.9 700.6 L282.9 729"/>
<path class="t" d="M282.9 733 L282.9 808" style="stroke-dasharray:31 5 13 2 22 0"/>
<path class="of" d="M279.8 647.5 L279.8 666 Q283.3 670 286.8 666 L286.8 647.5 Z" style="fill:#aaa"/>
<path class="o" d="M279.9 651.1 L286.7 648.3" style="stroke-width:0.9"/>
<path class="o" d="M279.9 654.1 L286.7 651.3" style="stroke-width:0.9"/>
<path class="o" d="M279.9 657.1 L286.7 654.3" style="stroke-width:0.9"/>
<path class="o" d="M279.9 660.1 L286.7 657.3" style="stroke-width:0.9"/>
<path class="o" d="M279.9 663.1 L286.7 660.3" style="stroke-width:0.9"/>
<path class="o" d="M279.9 666.1 L286.7 663.3" style="stroke-width:0.9"/>
<path class="of" d="M276.9 641.4 L276.9 645.6 Q283.5 651 290.1 645.6 L290.1 641.4 Z"/>
<ellipse class="of" cx="283.5" cy="641.4" rx="6.6" ry="3.4"/>
<path class="o" d="M281 638.4 L283.6 643 L286.2 644.6 M284.4 638.2 L286.4 642.4"/>
<path class="o" d="M274.4 695.6 L274.4 696.8 A8.5 4.8 0 0 0 291.4 696.8 L291.4 695.6"/>
<ellipse class="of" cx="282.9" cy="695.5" rx="8.5" ry="4.8" style="stroke-width:1.2"/>
<ellipse class="o" cx="282.9" cy="695.3" rx="3.4" ry="1.9" style="fill:#bbb"/>
<path class="of" d="M218.8 887.2 L218.8 891.2 A7.9 4.5 0 0 0 234.6 891.2 L234.6 887.2 Z"/>
<ellipse class="of" cx="226.7" cy="887.2" rx="7.9" ry="4.5" style="stroke-width:1.2"/>
<ellipse class="o" cx="226.7" cy="887.1" rx="4.1" ry="2.3"/>
<path class="of" d="M220.4 909.5 L220.4 926 L232.4 926 L232.4 909.5 Z"/>
<path class="of" d="M218.6 905.6 Q218.2 909.2 220.4 910.4 L232.4 910.4 Q234.4 909.2 234 905.6 Q232.6 900.6 226.3 900.4 Q220 900.6 218.6 905.6 Z" style="stroke-width:1.2"/>
<ellipse class="o" cx="226.3" cy="904.2" rx="4.6" ry="2.6" style="stroke-width:1.4"/>
<path class="of" d="M232.4 922.5 L241.6 917.2 L245.6 923.2 L235.2 929.6 Z"/>
<ellipse class="of" cx="243.8" cy="920.2" rx="2.4" ry="3.4" transform="rotate(-30 243.8 920.2)"/>
<path class="o" d="M236.6 920.2 L239.2 925.6 M238.2 919.4 L240.8 924.8" style="stroke-width:1.3"/>
<path class="of" d="M217.6 925.6 L217.6 927.6 A8.8 4 0 0 0 235.2 927.6 L235.2 925.6"/>
<path class="o" d="M235.1 924.9 A8.8 4 0 1 1 217.7 924.9" style="stroke-width:1.3"/>
<path class="o" d="M220.6 930.8 L225.2 935.6 Q227 936.6 229 935.2 L234.4 930.6"/>
<ellipse class="of" cx="292.2" cy="883.7" rx="6.6" ry="9.4" transform="rotate(-22 292.2 883.7)" style="stroke-width:1.5"/>
<ellipse class="o" cx="292.8" cy="883.9" rx="5" ry="7.9" transform="rotate(-22 292.8 883.9)"/>
<ellipse class="t" cx="293.4" cy="884.1" rx="4.2" ry="7" transform="rotate(-22 293.4 884.1)"/>
<ellipse class="of" cx="312.6" cy="875.6" rx="5.6" ry="5.9" style="stroke-width:1.1"/>
<path class="o" d="M309 868.4 L311 871.4 M311.2 867.2 L313.2 873 L316.2 875 M308.2 870.4 L315.8 870.8 L318.2 873.8" style="stroke-width:1.5"/>
<ellipse class="of" cx="412" cy="787.4" rx="5.6" ry="5.9" style="stroke-width:1.1"/>
<path class="o" d="M408.4 780.2 L410.4 783.2 M410.6 779 L412.6 784.8 L415.6 786.8 M407.6 782.2 L415.2 782.6 L417.6 785.6" style="stroke-width:1.5"/>
<path class="of" d="M400.6 791.9 C399.1 792.6 395.6 793.9 391.8 796.4 C388.1 798.9 383 802.7 378.1 807.1 C373.2 811.5 366.2 818.5 362.5 822.7 C358.8 826.9 358.3 828.8 355.7 832.5 C353.1 836.2 350.2 841.3 346.9 845.2 C343.6 849.1 339.8 852.8 336.1 855.9 C332.5 859 326.9 862.5 325 863.8 L325 863.8 C324.8 864.3 323.4 865.7 323.6 866.6 C323.8 867.5 325.1 868.8 326 869 C326.9 869.2 328.8 867.9 329.3 867.7 L329.3 867.7 C331.1 866.4 336.4 862.9 340 859.8 C343.6 856.7 347.8 853 351.2 849.1 C354.6 845.2 357.8 840.1 360.5 836.4 C363.2 832.6 363.8 830.8 367.4 826.6 C371 822.4 377.3 815.4 382 811 C386.7 806.6 391.9 803 395.7 800.3 C399.4 797.6 403 795.9 404.5 795 L404.5 795 C404.6 794.6 405.6 793.2 405.4 792.6 C405.2 792 404.2 791.3 403.4 791.2 C402.6 791.1 401.1 791.8 400.6 791.9Z" style="stroke-width:0.95"/>
<ellipse class="o" cx="326.9" cy="866.2" rx="2" ry="2.9" transform="rotate(35 326.9 866.2)" style="stroke-width:0.9"/>
</g>
<g id="plate-23">
<path class="o" d="M475.8 949.3 L502.1 935.7 M512.9 926.9 L537.3 914.2 M572.5 1008.9 L600.8 994.3 M609.8 987.4 L639 970.6" style="stroke-width:0.9"/>
<path class="of" d="M502.6 931.1 Q503 929 504.2 927.2 L504.2 927.2 Q505.4 925.4 507.2 926.5 L605.2 986.2 Q607.4 987.6 608.5 990 L608.8 990.5 Q609.7 992.3 609.5 994.3 L608.7 1000.1 Q608.6 1001.1 608.4 1002.1 L601.4 1033.4 Q600.8 1036.3 599.1 1038.8 L598.6 1039.6 Q596.9 1042.1 594.3 1043.6 L545.6 1071.6 Q542.2 1073.6 538.3 1073 L537.1 1072.8 Q534.4 1072.4 532.5 1070.4 L531.3 1069.1 Q530.6 1068.4 531.5 1068 L536.2 1065.9 Q537.4 1065.4 536.8 1064.2 L536.8 1064.2 Q536.2 1063 535 1063.7 L529.8 1066.7 Q528.5 1067.5 527.3 1066.6 L526.4 1066.1 Q525.6 1065.5 524.7 1065 L446.3 1018.3 Q445.4 1017.8 446.3 1017.4 L450.2 1015.5 Q451.6 1014.8 451.5 1013.2 L451.5 1012.8 Q451.4 1011.2 449.9 1011.8 L444 1014.2 Q442.6 1014.8 441.2 1014.3 L438.8 1013.5 Q436.7 1012.8 435.6 1010.8 L435.4 1010.5 Q434.6 1008.9 435.6 1007.5 L435.8 1007.2 Q436.7 1006 438 1005.3 L493 974.5 Q494.3 973.8 494.6 972.3Z" style="stroke-width:1.5"/>
<path class="o" d="M510.7 946.7 Q511.4 943.8 514 945.3 L544.5 962.9 Q547 964.4 548.1 967.1 L548.4 967.9 Q549.2 969.8 548.8 971.8 L543 997.5 Q542.2 1001.1 539.8 1003.9 L539.4 1004.3 Q537.4 1006.6 534.5 1005.9 L534.3 1005.9 Q531.4 1005.2 528.8 1003.7 L501.4 987.2 Q499.6 986.2 498.9 984.3 L498.9 984.3 Q498.1 982.4 499.6 981 L501 979.7 Q503.1 977.7 503.9 974.9 L504.3 973 Q504.6 972 504.8 971Z" style="stroke-width:1.3"/>
<path class="o" d="M562.5 977.9 Q563.2 975 565.8 976.5 L595.3 994.1 Q597.8 995.6 598.9 998.4 L599.3 999.2 Q600 1001.1 599.5 1003 L592.7 1031.4 Q592 1034.3 589.7 1036.2 L589.7 1036.2 Q587.4 1038 584.5 1037.3 L584.2 1037.2 Q581.3 1036.5 578.8 1034.9 L553.1 1018.7 Q551.4 1017.6 550.6 1015.7 L550.6 1015.7 Q549.9 1013.8 551.4 1012.4 L552.8 1011 Q554.9 1008.9 555.6 1006 L556.2 1004 Q556.4 1003 556.6 1002Z" style="stroke-width:1.3"/>
<ellipse class="o" cx="543.2" cy="956.2" rx="2.1" ry="2.6" transform="rotate(-25 543.2 956.2)"/>
<ellipse class="o" cx="556.3" cy="961.8" rx="1.6" ry="2.1" transform="rotate(-25 556.3 961.8)"/>
<ellipse class="o" cx="568.6" cy="971.8" rx="2.1" ry="2.6" transform="rotate(-25 568.6 971.8)"/>
<ellipse class="o" cx="507.2" cy="931.8" rx="1.3" ry="1.6" style="stroke-width:1.3"/>
<ellipse class="o" cx="604.7" cy="992.3" rx="1.3" ry="1.6" style="stroke-width:1.3"/>
<g transform="translate(564.4 897.6) rotate(150.9)">
<path class="of" style="fill:#888" d="M3 -2.1 L21 -2.1 Q23 0 21 2.1 L3 2.1 Z"/>
<path class="o" style="stroke-width:0.8" d="M5 -2.1 L5.8 2.1"/>
<path class="o" style="stroke-width:0.8" d="M7.1 -2.1 L7.9 2.1"/>
<path class="o" style="stroke-width:0.8" d="M9.2 -2.1 L10 2.1"/>
<path class="o" style="stroke-width:0.8" d="M11.3 -2.1 L12.1 2.1"/>
<path class="o" style="stroke-width:0.8" d="M13.4 -2.1 L14.2 2.1"/>
<path class="o" style="stroke-width:0.8" d="M15.5 -2.1 L16.3 2.1"/>
<path class="o" style="stroke-width:0.8" d="M17.6 -2.1 L18.4 2.1"/>
<path class="o" style="stroke-width:0.8" d="M19.7 -2.1 L20.5 2.1"/>
<ellipse class="of" style="stroke-width:1.3" cx="1.6" cy="0" rx="2.6" ry="6.4"/>
<path class="of" style="stroke-width:1.3" d="M-4.6 -3 L-3 -4.4 L0.6 -4.4 L0.6 4.4 L-3 4.4 L-4.6 3 Z"/>
<path class="o" style="stroke-width:0.8" d="M-3 -4.4 L-3 4.4 M-4.6 -1.2 L0.6 -1.4 M-4.6 1.4 L0.6 1.4"/>
</g>
<g transform="translate(662.2 957.6) rotate(150.9)">
<path class="of" style="fill:#888" d="M3 -2.1 L21 -2.1 Q23 0 21 2.1 L3 2.1 Z"/>
<path class="o" style="stroke-width:0.8" d="M5 -2.1 L5.8 2.1"/>
<path class="o" style="stroke-width:0.8" d="M7.1 -2.1 L7.9 2.1"/>
<path class="o" style="stroke-width:0.8" d="M9.2 -2.1 L10 2.1"/>
<path class="o" style="stroke-width:0.8" d="M11.3 -2.1 L12.1 2.1"/>
<path class="o" style="stroke-width:0.8" d="M13.4 -2.1 L14.2 2.1"/>
<path class="o" style="stroke-width:0.8" d="M15.5 -2.1 L16.3 2.1"/>
<path class="o" style="stroke-width:0.8" d="M17.6 -2.1 L18.4 2.1"/>
<path class="o" style="stroke-width:0.8" d="M19.7 -2.1 L20.5 2.1"/>
<ellipse class="of" style="stroke-width:1.3" cx="1.6" cy="0" rx="2.6" ry="6.4"/>
<path class="of" style="stroke-width:1.3" d="M-4.6 -3 L-3 -4.4 L0.6 -4.4 L0.6 4.4 L-3 4.4 L-4.6 3 Z"/>
<path class="o" style="stroke-width:0.8" d="M-3 -4.4 L-3 4.4 M-4.6 -1.2 L0.6 -1.4 M-4.6 1.4 L0.6 1.4"/>
</g>
</g>
<g id="frame">
<path class="d" d="M640.4 836.2 L845.6 726.7 L970.7 802.8 L770.3 911.2" style="stroke-dasharray:8 3"/>
<path class="d" d="M640.4 836.2 L651.5 859.3 L707.2 879.7 L723.9 898.2 L770.3 910.2" style="stroke-dasharray:8 3"/>
<path class="d" d="M639.8 840.4 L651.6 863.4 L705.4 883 L721.2 901.2 L767.4 913.4" style="stroke-dasharray:8 3"/>
<path class="d" d="M770.3 911.2 L763.2 929 L774.6 946.9 L858.8 903.1" style="stroke-dasharray:8 3"/>
<path class="d" d="M767.4 914.4 L760.6 930.6 L771.4 948.4" style="stroke-dasharray:8 3"/>
<path class="d" d="M970.7 802.8 L970.7 842.2 L901.5 879.6" style="stroke-dasharray:8 3"/>
<path class="d" d="M816.7 776.8 L844.5 761.9 L905.7 799.1 L877.9 813.9 Z" style="stroke-dasharray:8 3"/>
<path class="d" d="M822.4 780.6 L842.6 769.8 L842.6 793.5 M846.4 765.6 L902 799.6" style="stroke-dasharray:8 3"/>
<ellipse class="d" cx="748.8" cy="852.5" rx="33.9" ry="20.3" style="stroke-dasharray:8 3"/>
<path class="d" d="M716.1 854.1 A33 19.5 0 0 1 781.5 854.1" style="stroke-dasharray:8 3"/>
<path class="d" d="M701.6 835.4 A5.4 3.3 0 1 0 702.2 838.7 M695.6 836.9 Q698 835.7 699 837.3 Q699.2 838.7 696.8 838.9" style="stroke-width:0.9"/>
<path class="d" d="M782.8 803.5 A5.4 3.3 0 1 0 783.4 806.8 M776.8 805 Q779.2 803.8 780.2 805.4 Q780.4 806.8 778 807" style="stroke-width:0.9"/>
<path class="d" d="M808.8 763 A5.4 3.3 0 1 0 809.4 766.3 M802.8 764.5 Q805.2 763.3 806.2 764.9 Q806.4 766.3 804 766.5" style="stroke-width:0.9"/>
<path class="d" d="M827.7 753.4 A5.4 3.3 0 1 0 828.3 756.7 M821.7 754.9 Q824.1 753.7 825.1 755.3 Q825.3 756.7 822.9 756.9" style="stroke-width:0.9"/>
<path class="d" d="M847.8 742.2 A5.4 3.3 0 1 0 848.4 745.5 M841.8 743.7 Q844.2 742.5 845.2 744.1 Q845.4 745.5 843 745.7" style="stroke-width:0.9"/>
<path class="d" d="M844.1 812 A5.4 3.3 0 1 0 844.7 815.3 M838.1 813.5 Q840.5 812.3 841.5 813.9 Q841.7 815.3 839.3 815.5" style="stroke-width:0.9"/>
<path class="d" d="M819.2 826.8 A5.4 3.3 0 1 0 819.8 830.1 M813.2 828.3 Q815.6 827.1 816.6 828.7 Q816.8 830.1 814.4 830.3" style="stroke-width:0.9"/>
<path class="d" d="M837.8 837.2 A5.4 3.3 0 1 0 838.4 840.5 M831.8 838.7 Q834.2 837.5 835.2 839.1 Q835.4 840.5 833 840.7" style="stroke-width:0.9"/>
<path class="d" d="M908.3 822.4 A5.4 3.3 0 1 0 908.9 825.7 M902.3 823.9 Q904.7 822.7 905.7 824.3 Q905.9 825.7 903.5 825.9" style="stroke-width:0.9"/>
<path class="d" d="M927.6 812.7 A5.4 3.3 0 1 0 928.2 816 M921.6 814.2 Q924 813 925 814.6 Q925.2 816 922.8 816.2" style="stroke-width:0.9"/>
<path class="d" d="M948 801.6 A5.4 3.3 0 1 0 948.6 804.9 M942 803.1 Q944.4 801.9 945.4 803.5 Q945.6 804.9 943.2 805.1" style="stroke-width:0.9"/>
<ellipse class="d" cx="869.7" cy="764.9" rx="5.6" ry="3.5" style="stroke-width:0.9"/>
<ellipse class="d" cx="869.7" cy="765.3" rx="3.8" ry="2.2" style="stroke-width:0.9"/>
<ellipse class="d" cx="894.6" cy="778.6" rx="5.6" ry="3.5" style="stroke-width:0.9"/>
<ellipse class="d" cx="894.6" cy="779" rx="3.8" ry="2.2" style="stroke-width:0.9"/>
<ellipse class="d" cx="912" cy="847.8" rx="1.9" ry="3.8" transform="rotate(35 912 847.8)" style="stroke-width:0.8"/>
<path class="d" d="M913.7 845.9 A0.8 2.4 35 0 1 911 849.8" style="stroke-width:0.75"/>
<ellipse class="d" cx="949.6" cy="844.5" rx="1.9" ry="3.8" transform="rotate(35 949.6 844.5)" style="stroke-width:0.8"/>
<path class="d" d="M951.3 842.6 A0.8 2.4 35 0 1 948.6 846.5" style="stroke-width:0.75"/>
<ellipse class="d" cx="953.1" cy="896.8" rx="1.9" ry="3.8" transform="rotate(35 953.1 896.8)" style="stroke-width:0.8"/>
<path class="d" d="M954.8 894.9 A0.8 2.4 35 0 1 952.1 898.8" style="stroke-width:0.75"/>
<ellipse class="d" cx="964.3" cy="885.9" rx="1.9" ry="3.8" transform="rotate(35 964.3 885.9)" style="stroke-width:0.8"/>
<path class="d" d="M966 884 A0.8 2.4 35 0 1 963.3 887.9" style="stroke-width:0.75"/>
<path class="d" d="M796.4 903.5 L803 900.5 L802.4 907.9 L796.2 910.7 Z M799 902.5 L800.4 905.7 L797 907.5" style="stroke-width:0.85;stroke-dasharray:3 1.2"/>
<path class="d" d="M814.2 912.1 L820.8 909.1 L820.2 916.5 L814 919.3 Z M816.8 911.1 L818.2 914.3 L814.8 916.1" style="stroke-width:0.85;stroke-dasharray:3 1.2"/>
<path class="d" d="M787.8 927.7 L794.4 924.7 L793.8 932.1 L787.6 934.9 Z M790.4 926.7 L791.8 929.9 L788.4 931.7" style="stroke-width:0.85;stroke-dasharray:3 1.2"/>
<path class="d" d="M870.1 864.9 L886.9 854.8 L901.5 862.7 L882.4 872.8 Z" style="stroke-dasharray:8 3"/>
<path class="d" d="M870.1 864.9 L870.1 897.5 M882.4 872.8 L882.4 905.4 M901.5 862.7 L901.5 896.4 M889.2 875 L889.2 901 M895.9 871.6 L895.9 904.6" style="stroke-dasharray:8 3"/>
<path class="d" d="M858.8 903.1 L870.1 897.5 L881.6 904.6 M858.8 904.8 L873.6 914 L889.4 907.4 M874.6 908.8 L874.6 915.4" style="stroke-dasharray:8 3"/>
<path class="d" d="M901.5 885.2 L910.5 890.8 L910.5 896.4 L897 903.2" style="stroke-dasharray:8 3"/>
<path class="d" d="M929.6 864.9 L929.6 925.6 M935.6 863.8 L935.6 921.1" style="stroke-dasharray:8 3"/>
<path class="d" d="M929.4 918 L923.4 928.9 L923.4 934.4 L929.4 937.6 L961 921.3" style="stroke-dasharray:8 3"/>
<ellipse class="d" cx="931" cy="933.8" rx="2.2" ry="3.2" style="stroke-width:0.9"/>
<path class="d" d="M932.4 898.6 L936.6 896.4 L938.2 901.6 L934.4 903.6" style="stroke-dasharray:8 3"/>
<path class="d" d="M967 846.1 L967.3 893.5 Q966.8 896.6 958.8 900.6" style="stroke-dasharray:8 3"/>
<ellipse class="d" cx="955" cy="915.6" rx="8.2" ry="6.4" transform="rotate(-15 955 915.6)" style="stroke-dasharray:5 2.2"/>
<path class="d" d="M948.6 906.8 L961.4 900.8 L962.6 908.4" style="stroke-dasharray:8 3"/>
</g>
<g id="header-text">
<text class="hx" y="55.8" font-size="30.6px" font-weight="normal" stroke-width="1.35"><tspan x="25.83" letter-spacing="2.17px">REPAIR</tspan> <tspan x="160.43" letter-spacing="2.35px">PARTS</tspan></text>
<text class="hx" y="88.3" font-size="24.3px" font-weight="normal" stroke-width="0.8"><tspan x="62.21" letter-spacing="0.82px">TRACTOR-</tspan> <tspan x="199.93" letter-spacing="-0.30px">-MODEL</tspan> <tspan x="308.66" letter-spacing="1.14px">NO.</tspan> <tspan x="362.58" letter-spacing="0.44px">CTH170</tspan> <tspan x="465.64" letter-spacing="0.36px">(HECTH170A),</tspan> <tspan x="644.26" letter-spacing="0.18px">PRODUCT</tspan> <tspan x="778.96" letter-spacing="0.59px">NO.</tspan> <tspan x="831.51" letter-spacing="0.39px">954</tspan> <tspan x="884.18" letter-spacing="0.11px">17</tspan> <tspan x="921.35" letter-spacing="-0.08px">00-70</tspan></text>
<text class="hx" y="116.4" font-size="21.1px" font-weight="normal" stroke-width="0.65"><tspan x="25.94" letter-spacing="0.81px">ENGINE</tspan></text>
<text class="hx" y="1197.5" font-size="21.7px" font-weight="normal" stroke-width="0.6"><tspan x="121.32" letter-spacing="0.92px">OPTIONAL</tspan> <tspan x="245.96" letter-spacing="0.81px">EQUIPMENT</tspan></text>
<text class="hx" y="1239.5" font-size="22.2px" font-weight="normal" stroke-width="0.95"><tspan x="172.18" letter-spacing="1.16px">Spark</tspan> <tspan x="244.07" letter-spacing="0.88px">Arrester</tspan></text>
</g>
<g id="leaders">
<path class="ld" d="M122.6 256.8L177.7 273.3"/>
<path class="ld" d="M129.5 331.7L182.8 349.4"/>
<path class="ld" d="M191 456.8L243 473.6"/>
<path class="ld" d="M193.5 526.9L245.4 544.4"/>
<path class="ld" d="M634.2 262.2L610.8 305"/>
<path class="ld" d="M718.1 253.8L698.1 291.9"/>
<path class="ld" d="M749.4 273.8L730 311.3"/>
<path class="ld" d="M790 410.6L771.3 447.5"/>
<path class="ld" d="M879.4 422.5L860.6 460"/>
<path class="ld" d="M651.4 465.5L628 509.3"/>
<path class="ld" d="M598.1 526.1L580.2 560.7"/>
<path class="ld" d="M634.3 612.5L616.3 647"/>
<path class="ld" d="M696.9 654L674.7 697.2"/>
<path class="ld" d="M503.1 662.7L523.5 667.3"/>
<path class="ld" d="M404.1 558.1L347 585.3L474.7 599.2M347 585.3L491.7 692.7"/>
<path class="ld" d="M286.9 654.6L339 671.3"/>
<path class="ld" d="M292.2 697.6L344.3 713.8"/>
<path class="ld" d="M142.2 641.1L177.3 652.2"/>
<path class="ld" d="M417.8 790.1L471.4 807.2"/>
<path class="ld" d="M367.5 828.4L421.2 843.7"/>
<path class="ld" d="M318.7 879.6L369.9 896.7"/>
<path class="ld" d="M298.2 893.3L324.5 921.3"/>
<path class="ld" d="M220.6 891.6L195.6 934.3"/>
<path class="ld" d="M234.9 932.5L286.4 949.6"/>
<path class="ld" d="M162.9 858.7L141.1 899.2"/>
<path class="ld" d="M450.6 969.4L450.6 998.1"/>
<path class="ld" d="M570.9 897.7L636 906.5L657.9 947.5"/>
<path class="ld" d="M222.4 1099.4L235.8 1159.2" style="stroke-width:1.5"/>
</g>
<g id="labels">
<text class="lb" x="111.5" y="261.3">2</text>
<text class="lb" x="118.5" y="337">1</text>
<text class="lb" x="256.5" y="484">25</text>
<text class="lb" x="260.4" y="553.8">26</text>
<text class="lb" x="638.5" y="256.8">3</text>
<text class="lb" x="691.4" y="312">72</text>
<text class="lb" x="725.5" y="332">62</text>
<text class="lb" x="768.2" y="467.6">13</text>
<text class="lb" x="856" y="480.2">4</text>
<text class="lb" x="654.2" y="460.6">81</text>
<text class="lb" x="600.8" y="524">38</text>
<text class="lb" x="610.5" y="663.5">14</text>
<text class="lb" x="673" y="716">78</text>
<text class="lb" x="535.2" y="673">16</text>
<text class="lb" x="330.4" y="591.7">78</text>
<text class="lb" x="354.6" y="682.1">44</text>
<text class="lb" x="357.8" y="722.8">46</text>
<text class="lb" x="127.3" y="646.5">32</text>
<text class="lb" x="485" y="816.4">33</text>
<text class="lb" x="435.3" y="854">37</text>
<text class="lb" x="385.8" y="907.7">33</text>
<text class="lb" x="344.8" y="937">40</text>
<text class="lb" x="197.3" y="954.1">112</text>
<text class="lb" x="300.7" y="961">41</text>
<text class="lb" x="135.7" y="916.2">31</text>
<text class="lb" x="449.7" y="965.6">23</text>
<text class="lb" x="640.1" y="904">45</text>
<text class="lb" x="221.9" y="1092.4">29</text>
</g>
<g id="optbox">
<rect x="104.4" y="1161" width="294.5" height="95.2" fill="none" stroke="#111" stroke-width="1.5"/>
</g>
</svg>
</body>
</html>
